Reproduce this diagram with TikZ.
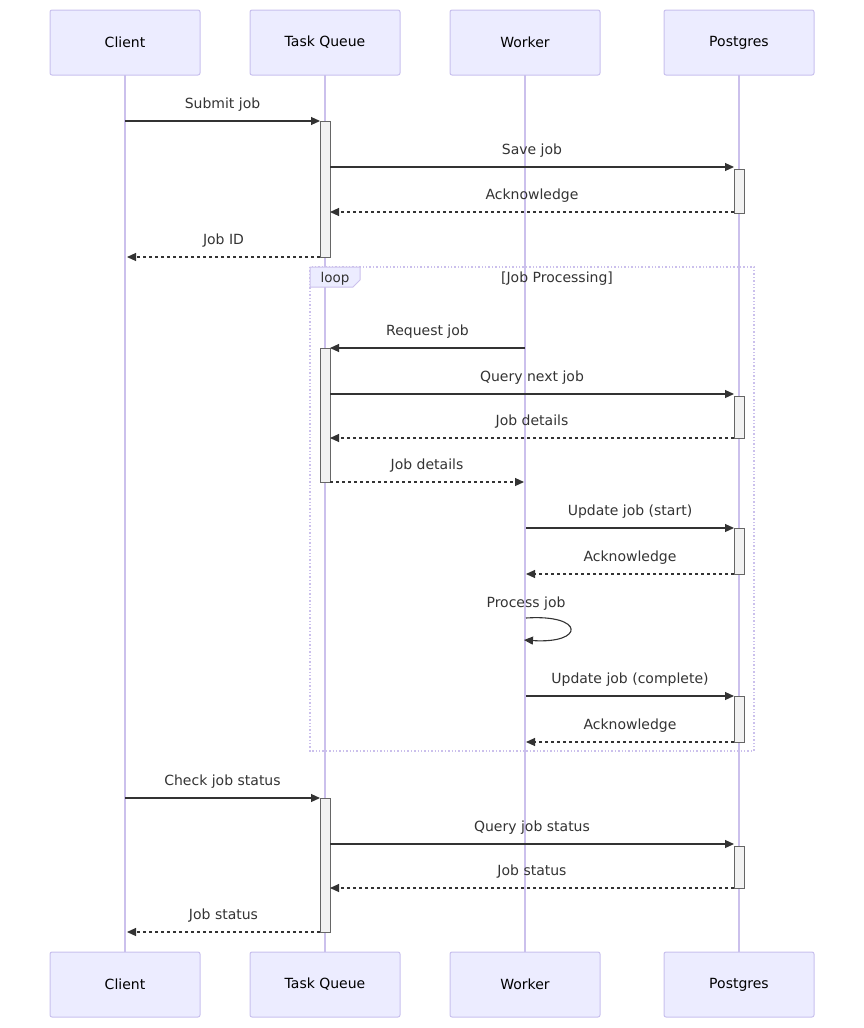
\documentclass[tikz,border=0pt]{standalone}
\usepackage{fontspec}
\setmainfont{DejaVu Sans}
\usetikzlibrary{arrows.meta}
\definecolor{actfill}{HTML}{ECECFF}
\definecolor{actdraw}{HTML}{C8C0EE}
\definecolor{lifec}{HTML}{CBC0EC}
\definecolor{msgc}{HTML}{333333}
\tikzset{
 actor/.style={draw=actdraw,fill=actfill,rounded corners=2pt,line width=1pt,minimum width=150pt,minimum height=65pt,inner sep=0pt,font=\fontsize{14}{17}\selectfont},
 life/.style={draw=lifec,line width=1.4pt},
 activ/.style={draw=black!60,fill=black!5,line width=0.9pt},
 msg/.style={draw=msgc,line width=1.1pt,-{Triangle[length=9pt,width=8pt]}},
 rep/.style={msg,dash pattern=on 3pt off 3pt},
 lab/.style={font=\fontsize{14}{17}\selectfont,text=msgc,inner sep=0pt},
}
\begin{document}
\begin{tikzpicture}[x=1pt,y=-1pt]
\useasboundingbox (0,0) rectangle (864,1028);
\foreach \n/\x/\t in {c/125/Client,q/325/Task Queue,w/525/Worker,p/739/Postgres}{
 \draw[life] (\x,75) -- (\x,952);
 \node[actor] (\n top) at (\x,42.5) {\t};
 \node[actor] (\n bot) at (\x,984.5) {\t};
}
\foreach \x/\a/\b in {320/121/257,734/169/213,320/348/482,734/396/438,734/528/574,734/696/742,320/798/932,734/846/888}{
 \draw[activ] (\x,\a) rectangle (\x+10,\b);
}
\draw[draw=lifec,line width=1.4pt,dotted] (310,267) rectangle (754,751);
\draw[draw=lifec,fill=actfill,line width=1pt] (310,267) -- (360,267) -- (360,280) -- (353,287) -- (310,287) -- cycle;
\node[lab,font=\fontsize{13.5}{16}\selectfont] (looplab) at (335,279) {loop};
\node[lab] (loopcond) at (557,279) {[Job Processing]};
\newcommand\mymsg[5]{\draw[#1] (#2,#4) -- (#3,#4); \node[lab] at ({(#2+#3)/2},#4-16) {#5};}
\mymsg{msg}{125}{320}{121}{Submit job}
\mymsg{msg}{330}{734}{167}{Save job}
\mymsg{rep}{734}{330}{212}{Acknowledge}
\mymsg{rep}{320}{127}{257}{Job ID}
\mymsg{msg}{525}{330}{348}{Request job}
\mymsg{msg}{330}{734}{394}{Query next job}
\mymsg{rep}{734}{330}{438}{Job details}
\mymsg{rep}{330}{524}{482}{Job details}
\mymsg{msg}{526}{734}{528}{Update job (start)}
\mymsg{rep}{734}{526}{574}{Acknowledge}
\draw[msg] (526,618) .. controls (585,614) and (585,644) .. (524,640);
\node[lab] (proc) at (526,604) {Process job};
\mymsg{msg}{526}{734}{696}{Update job (complete)}
\mymsg{rep}{734}{526}{742}{Acknowledge}
\mymsg{msg}{125}{320}{798}{Check job status}
\mymsg{msg}{330}{734}{844}{Query job status}
\mymsg{rep}{734}{330}{888}{Job status}
\mymsg{rep}{320}{127}{932}{Job status}
\end{tikzpicture}
\end{document}
